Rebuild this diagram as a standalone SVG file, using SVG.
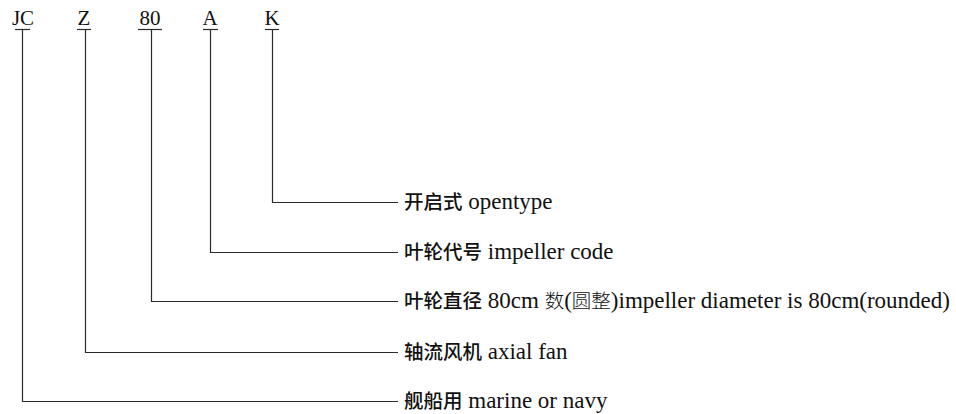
<svg xmlns="http://www.w3.org/2000/svg" width="956" height="414" viewBox="0 0 956 414">
<style>
.ln{stroke:#2a2a2a;stroke-width:1.2;fill:none}
.code{font-family:"Liberation Serif",serif;font-size:21px;fill:#111}
text.lab{font-size:23px;fill:#111}
.en{font-family:"Liberation Serif",serif;font-size:23px}
.cn{font-family:"Noto Sans CJK SC",sans-serif;font-size:19.5px;font-weight:500}
.cs{font-family:"Noto Sans CJK SC",sans-serif;font-size:19.5px;font-weight:300}
</style>
<rect width="956" height="414" fill="#fff"/>
<g id="node-JC"><text class="code" x="23" y="25" text-anchor="middle">JC</text><line class="ln" x1="15" y1="29.5" x2="30" y2="29.5"/></g>
<g id="node-Z"><text class="code" x="84" y="25" text-anchor="middle">Z</text><line class="ln" x1="77" y1="29.5" x2="91" y2="29.5"/></g>
<g id="node-80"><text class="code" x="150" y="25" text-anchor="middle">80</text><line class="ln" x1="138" y1="29.5" x2="162" y2="29.5"/></g>
<g id="node-A"><text class="code" x="210" y="25" text-anchor="middle">A</text><line class="ln" x1="203" y1="29.5" x2="218" y2="29.5"/></g>
<g id="node-K"><text class="code" x="272" y="25" text-anchor="middle">K</text><line class="ln" x1="265" y1="29.5" x2="279" y2="29.5"/></g>
<g id="connectors">
<polyline class="ln" points="272.5,29.5 272.5,202.5 398,202.5"/>
<polyline class="ln" points="210.5,29.5 210.5,252.5 398,252.5"/>
<polyline class="ln" points="151.5,29.5 151.5,301.5 398,301.5"/>
<polyline class="ln" points="85.5,29.5 85.5,352.5 398,352.5"/>
<polyline class="ln" points="22.5,29.5 22.5,401.5 398,401.5"/>
</g>
<g id="label-K"><text class="lab" x="404" y="209"><tspan class="cn">开启式</tspan><tspan class="en"> opentype</tspan></text></g>
<g id="label-A"><text class="lab" x="404" y="259"><tspan class="cn">叶轮代号</tspan><tspan class="en"> impeller code</tspan></text></g>
<g id="label-80"><text class="lab" x="404" y="308"><tspan class="cn">叶轮直径</tspan><tspan class="en"> 80cm </tspan><tspan class="cs">数</tspan><tspan class="en">(</tspan><tspan class="cs">圆整</tspan><tspan class="en">)impeller diameter is 80cm(rounded)</tspan></text></g>
<g id="label-Z"><text class="lab" x="404" y="359"><tspan class="cn">轴流风机</tspan><tspan class="en"> axial fan</tspan></text></g>
<g id="label-JC"><text class="lab" x="404" y="408"><tspan class="cn">舰船用</tspan><tspan class="en"> marine or navy</tspan></text></g>
</svg>
